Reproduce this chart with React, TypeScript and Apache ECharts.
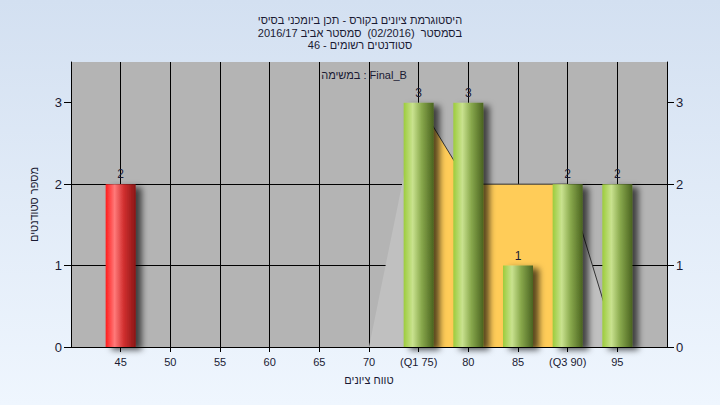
import React, { useEffect, useRef } from "react";
import * as echarts from "echarts";

const titleLines = [
  "היסטוגרמת ציונים בקורס - תכן ביומכני בסיסי",
  "בסמסטר  (02/2016)  סמסטר אביב 2016/17",
  "סטודנטים רשומים - 46",
];
const taskLabel = "במשימה : Final_B";
const xAxisName = "טווח ציונים";
const yAxisName = "מספר סטודנטים";

const grades = [45, 50, 55, 60, 65, 70, 75, 80, 85, 90, 95];
const counts = [2, 0, 0, 0, 0, 0, 3, 3, 1, 2, 2];
const gradeLabels: Record<number, string> = { 75: "(Q1 75)", 90: "(Q3 90)" };
const failLimit = 55;

const curveX = [70, 75, 80, 85, 90, 95];
const curveY = [0, 3, 2, 2, 2, 0];
const q1 = 75;
const q3 = 90;

const yTicks = [0, 1, 2, 3];

const rtl = (s: string) => "\u202B" + s + "\u202C";

const FONT = "'Liberation Sans', 'DejaVu Sans', sans-serif";
const TXT = "#1a1a33";

const redGrad = {
  type: "linear", x: 0, y: 0, x2: 1, y2: 0,
  colorStops: [
    { offset: 0, color: "#ff1c1c" },
    { offset: 0.3, color: "#ff7a7a" },
    { offset: 0.6, color: "#d23030" },
    { offset: 1, color: "#8a1616" },
  ],
};
const greenGrad = {
  type: "linear", x: 0, y: 0, x2: 1, y2: 0,
  colorStops: [
    { offset: 0, color: "#9ccc3c" },
    { offset: 0.3, color: "#c9e28f" },
    { offset: 0.6, color: "#88a84c" },
    { offset: 1, color: "#4a6320" },
  ],
};

export default function App() {
  const ref = useRef<HTMLDivElement>(null);
  useEffect(() => {
    document.body.style.margin = "0";
    const chart = echarts.init(ref.current!, null, { renderer: "svg" });

    const barData = grades
      .map((g, i) => ({ g, c: counts[i] }))
      .filter((d) => d.c > 0)
      .map((d) => ({
        value: [d.g, d.c],
        itemStyle: { color: d.g < failLimit ? redGrad : greenGrad },
      }));

    const grayArea = curveX.map((x, i) => [x, curveY[i]]);
    const orangeArea = curveX
      .map((x, i) => [x, curveY[i]])
      .filter((p) => p[0] >= q1 && p[0] <= q3);
    const outline = curveX
      .map((x, i) => [x, curveY[i]])
      .filter((p) => p[0] >= q1);

    const option: any = {
      animation: false,
      backgroundColor: {
        type: "linear", x: 0, y: 0, x2: 0, y2: 1,
        colorStops: [
          { offset: 0, color: "#d3e0f1" },
          { offset: 1, color: "#eff6fe" },
        ],
      },
      textStyle: { fontFamily: FONT },
      title: {
        text: titleLines.map(rtl).join("\n"),
        left: "center",
        top: 9,
        textStyle: { fontSize: 11, fontWeight: "normal", color: TXT, lineHeight: 12.5, fontFamily: FONT },
      },
      grid: {
        left: 71, right: 53, top: 62, bottom: 58,
        show: true, backgroundColor: "#b4b4b4", borderWidth: 0,
      },
      graphic: [
        {
          type: "text",
          x: 364,
          y: 75,
          z: 10,
          style: {
            text: taskLabel,
            fill: TXT,
            font: "11px " + FONT,
            textAlign: "center",
            textVerticalAlign: "middle",
          },
        },
      ],
      xAxis: {
        type: "value",
        min: 40,
        max: 100,
        interval: 5,
        name: xAxisName,
        nameLocation: "middle",
        nameGap: 27,
        nameTextStyle: { fontSize: 11, color: TXT, fontFamily: FONT },
        axisLine: { show: true, lineStyle: { color: "#000", width: 1 } },
        axisTick: { show: true, length: 5, lineStyle: { color: "#000" } },
        axisLabel: {
          margin: 9,
          fontSize: 11,
          color: TXT,
          showMinLabel: false,
          showMaxLabel: false,
          formatter: (v: number) => {
            if (v <= 40 || v >= 100) return "";
            return gradeLabels[v] ?? String(v);
          },
        },
        splitLine: { show: true, lineStyle: { color: "#000", width: 1 } },
      },
      yAxis: [
        {
          type: "value",
          min: 0,
          max: 3.5,
          position: "left",
          name: yAxisName,
          nameLocation: "middle",
          nameGap: 32,
          nameTextStyle: { fontSize: 11, color: TXT, fontFamily: FONT },
          axisLine: { show: true, lineStyle: { color: "#000", width: 1 } },
          axisTick: { show: true, length: 7, customValues: yTicks, lineStyle: { color: "#000" } },
          axisLabel: { margin: 9, fontSize: 13, color: TXT, customValues: yTicks },
          splitLine: { show: true, showMaxLine: false, lineStyle: { color: "#000", width: 1 } },
        },
        {
          type: "value",
          min: 0,
          max: 3.5,
          position: "right",
          axisLine: { show: true, lineStyle: { color: "#000", width: 1 } },
          axisTick: { show: true, length: 7, customValues: yTicks, lineStyle: { color: "#000" } },
          axisLabel: { margin: 9, fontSize: 13, color: TXT, customValues: yTicks },
          splitLine: { show: false },
        },
      ],
      series: [
        {
          type: "line",
          data: grayArea,
          symbol: "none",
          lineStyle: { width: 0, opacity: 0 },
          areaStyle: { color: "#c0c0c0", opacity: 1 },
          z: 1,
          silent: true,
        },
        {
          type: "line",
          data: orangeArea,
          symbol: "none",
          lineStyle: { width: 0, opacity: 0 },
          areaStyle: { color: "#ffcc58", opacity: 1 },
          z: 2,
          silent: true,
        },
        {
          type: "line",
          data: outline,
          symbol: "none",
          lineStyle: { width: 1, color: "#333" },
          z: 3,
          silent: true,
        },
        {
          type: "bar",
          data: barData,
          barWidth: 30,
          z: 5,
          itemStyle: {
            shadowColor: "rgba(0,0,0,0.65)",
            shadowBlur: 6,
            shadowOffsetX: 6,
            shadowOffsetY: 3,
          },
          label: {
            show: true,
            position: "top",
            distance: 4,
            fontSize: 12,
            color: TXT,
            formatter: (p: any) => String(p.value[1]),
          },
        },
      ],
    };
    chart.setOption(option);
    return () => chart.dispose();
  }, []);
  return <div ref={ref} style={{ width: 720, height: 405 }} />;
}
